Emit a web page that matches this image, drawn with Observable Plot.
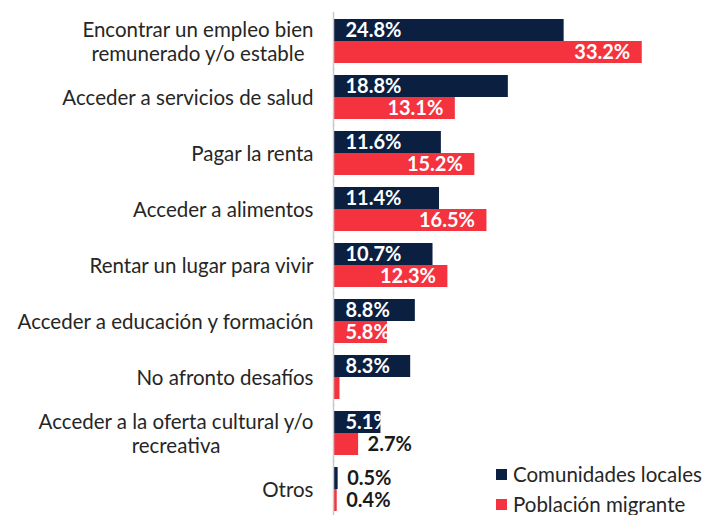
<!DOCTYPE html>
<html>
<head>
<meta charset="utf-8">
<script src="https://cdn.jsdelivr.net/npm/d3@7"></script>
<script src="https://cdn.jsdelivr.net/npm/@observablehq/plot@0.6"></script>
<style>
  body { margin: 0; background: #fff; }
  #wrap { position: relative; width: 717px; height: 515px; overflow: hidden; }
  #legend { position: absolute; left: 496px; top: 459px; font-family: Lato, sans-serif; font-size: 20.5px; color: #262626; }
  #legend .item { display: flex; align-items: center; height: 30px; }
  #legend .sw { width: 11px; height: 11px; margin-right: 6px; }
</style>
</head>
<body>
<div id="wrap"></div>
<script>
const categories = [
  "Encontrar un empleo bien\nremunerado y/o estable",
  "Acceder a servicios de salud",
  "Pagar la renta",
  "Acceder a alimentos",
  "Rentar un lugar para vivir",
  "Acceder a educación y formación",
  "No afronto desafíos",
  "Acceder a la oferta cultural y/o\nrecreativa",
  "Otros"
];
const series = ["Comunidades locales", "Población migrante"];
const colors = ["#0b1f41", "#f5333f"];
const comunidades = [24.8, 18.8, 11.6, 11.4, 10.7, 8.8, 8.3, 5.1, 0.5];
const migrantes = [33.2, 13.1, 15.2, 16.5, 12.3, 5.8, 0.7, 2.7, 0.4];
const comunidadesLabels = ["24.8%", "18.8%", "11.6%", "11.4%", "10.7%", "8.8%", "8.3%", "5.1%", "0.5%"];
const migrantesLabels = ["33.2%", "13.1%", "15.2%", "16.5%", "12.3%", "5.8%", "", "2.7%", "0.4%"];

const rows = categories.flatMap((c, i) => [
  {cat: c, series: series[0], value: comunidades[i], label: comunidadesLabels[i]},
  {cat: c, series: series[1], value: migrantes[i], label: migrantesLabels[i]}
]);

const labelStyle = {fy: "cat", y: "series", text: "label", fontSize: 20, fontWeight: "bold"};

const plot = Plot.plot({
  width: 717,
  height: 515,
  marginLeft: 333,
  marginRight: 12,
  marginTop: 14,
  marginBottom: 0,
  x: {domain: [0, 40], axis: null},
  y: {domain: series, axis: null, padding: 0},
  fy: {domain: categories, axis: null, paddingInner: 0.22, paddingOuter: 0.05},
  color: {domain: series, range: colors},
  style: {fontFamily: "Lato, sans-serif", background: "#fff"},
  marks: [
    Plot.barX(rows, {fy: "cat", y: "series", x: "value", fill: "series"}),
    Plot.ruleX([0], {stroke: "#c8c8c8", strokeWidth: 1.5, insetTop: -7, insetBottom: -7}),
    Plot.text(categories, {fy: d => d, text: d => d, frameAnchor: "left", textAnchor: "end", dx: -20, fontSize: 20.5, lineHeight: 1.17, fill: "#262626"}),
    // Comunidades: inside base
    Plot.text(rows.filter(d => d.series === series[0] && d.label && d.value >= 3),
      {...labelStyle, x: () => 0, textAnchor: "start", dx: 12, fill: "#fff"}),
    // Migrantes: inside end
    Plot.text(rows.filter(d => d.series === series[1] && d.label && d.value >= 7),
      {...labelStyle, x: "value", textAnchor: "end", dx: -12, fill: "#fff"}),
    // Migrantes: medium bars, from base
    Plot.text(rows.filter(d => d.series === series[1] && d.label && d.value >= 3 && d.value < 7),
      {...labelStyle, x: () => 0, textAnchor: "start", dx: 12, fill: "#fff"}),
    // small bars: outside
    Plot.text(rows.filter(d => d.label && d.value < 3),
      {...labelStyle, x: "value", textAnchor: "start", dx: 9, fill: "#1a1a1a"})
  ]
});

const wrap = document.getElementById("wrap");
wrap.appendChild(plot);

// center multi-line category labels within their block (right edge kept)
plot.querySelectorAll("text").forEach(t => {
  const spans = t.querySelectorAll("tspan");
  if (spans.length > 1) {
    const w = Math.max(...Array.from(spans, s => s.getComputedTextLength()));
    t.setAttribute("text-anchor", "middle");
    spans.forEach(s => s.setAttribute("x", -w / 2));
  }
});

const legend = document.createElement("div");
legend.id = "legend";
series.forEach((s, i) => {
  const item = document.createElement("div");
  item.className = "item";
  const sw = document.createElement("span");
  sw.className = "sw";
  sw.style.background = colors[i];
  item.appendChild(sw);
  item.appendChild(document.createTextNode(s));
  legend.appendChild(item);
});
wrap.appendChild(legend);
</script>
</body>
</html>
